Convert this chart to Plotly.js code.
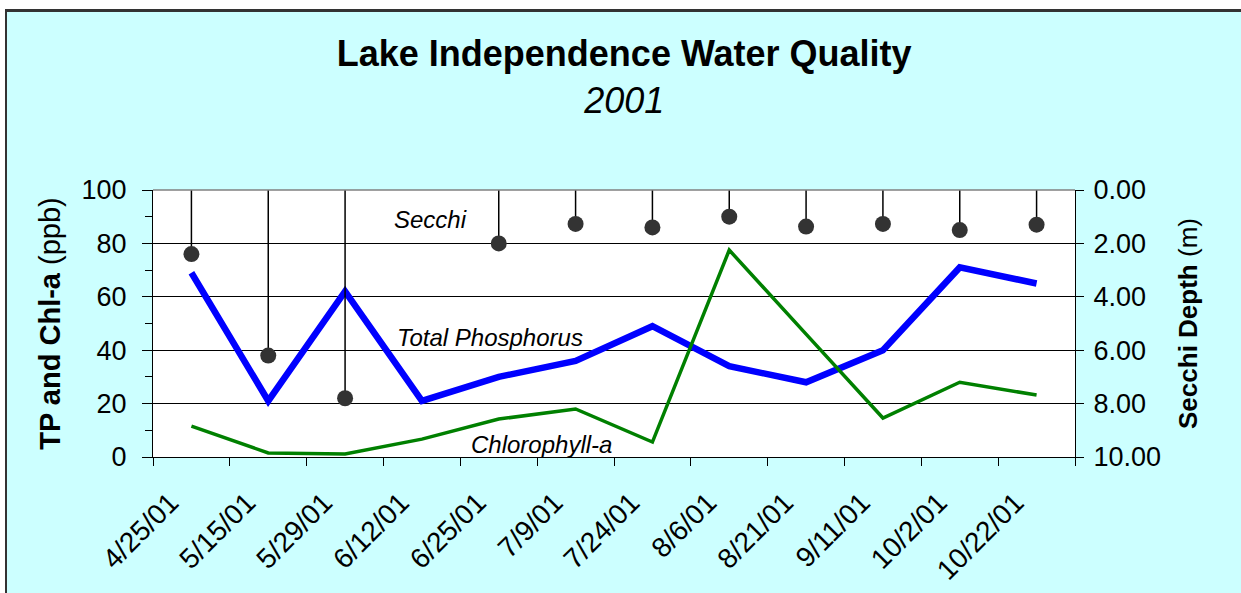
<!DOCTYPE html>
<html>
<head>
<meta charset="utf-8">
<script src="https://cdn.plot.ly/plotly-3.0.1.min.js"></script>
<style>
  html, body { margin: 0; padding: 0; background: #ffffff; }
  #wrap { position: relative; width: 1241px; height: 593px; overflow: hidden; }
  #chart { position: absolute; left: 0; top: 0; width: 1241px; height: 593px; }
  .cover { position: absolute; pointer-events: none; }
</style>
</head>
<body>
<div id="wrap">
  <div id="chart"></div>
  <div class="cover" style="left:0;top:0;width:1241px;height:9px;background:#ffffff;"></div>
  <div class="cover" style="left:0;top:0;width:5px;height:593px;background:#ffffff;"></div>
  <div class="cover" style="left:5px;top:9px;width:1236px;height:3px;background:#333333;"></div>
  <div class="cover" style="left:5px;top:9px;width:2px;height:584px;background:#333333;"></div>
</div>
<script>
// ---- data ----
const dates = ["4/25/01","5/15/01","5/29/01","6/12/01","6/25/01","7/9/01",
               "7/24/01","8/6/01","8/21/01","9/11/01","10/2/01","10/22/01"];
const totalPhosphorus = [69, 21, 62, 21, 30, 36, 49, 34, 28, 40, 71, 65];   // ppb
const chlorophyllA    = [11.6, 1.5, 1.1, 6.7, 14.2, 18, 5.6, 77.5, 46, 14.6, 28, 23.2]; // ppb
const secchiDepth     = [2.4, 6.2, 7.8, null, 2.0, 1.27, 1.4, 1.0, 1.37, 1.27, 1.5, 1.3]; // m
const leftTicks  = [0, 20, 40, 60, 80, 100];
const rightTicks = [0, 2, 4, 6, 8, 10];

const FONT = "Liberation Sans, Arial, Helvetica, sans-serif";

const secchiStem = secchiDepth.map(v => v === null ? null : 0);

const traces = [
  {
    x: dates, y: totalPhosphorus, type: "scatter", mode: "lines",
    name: "Total Phosphorus",
    line: { color: "#0000FF", width: 6.5 },
    xaxis: "x", yaxis: "y", hoverinfo: "skip"
  },
  {
    x: dates, y: chlorophyllA, type: "scatter", mode: "lines",
    name: "Chlorophyll-a",
    line: { color: "#008000", width: 3.5 },
    xaxis: "x", yaxis: "y", hoverinfo: "skip"
  },
  {
    x: dates, y: secchiDepth, type: "scatter", mode: "markers",
    name: "Secchi",
    marker: { color: "#333333", size: 16 },
    error_y: {
      type: "data", symmetric: false,
      array: secchiStem, arrayminus: secchiDepth,
      color: "#000000", thickness: 1.5, width: 0
    },
    xaxis: "x", yaxis: "y2", hoverinfo: "skip"
  }
];

const layout = {
  width: 1241, height: 593,
  paper_bgcolor: "#CCFFFF",
  plot_bgcolor: "#FFFFFF",
  showlegend: false,
  font: { family: FONT, color: "#000000", size: 26 },
  margin: { l: 153, r: 166, t: 190, b: 136, pad: 0 },
  title: {
    text: "<b>Lake Independence Water Quality</b><br><i>2001</i>",
    font: { family: FONT, size: 36, color: "#000000" },
    x: 0.503, xanchor: "center", xref: "container",
    y: 0.889, yanchor: "top", yref: "container"
  },
  xaxis: {
    type: "category",
    categoryorder: "array", categoryarray: dates,
    range: [-0.5, 11.5],
    tickson: "boundaries",
    ticks: "outside", ticklen: 8, tickwidth: 1, tickcolor: "#000000",
    showline: true, linecolor: "#000000", linewidth: 1,
    showgrid: false, zeroline: false,
    tickangle: -45,
    ticklabelshift: -21,
    ticklabelstandoff: 17,
    tickfont: { family: FONT, size: 28, color: "#000000" },
    fixedrange: true
  },
  yaxis: {
    range: [0, 100],
    tickvals: leftTicks,
    ticks: "outside", ticklen: 10, tickwidth: 1, tickcolor: "#000000",
    minor: { dtick: 10, tick0: 0, ticks: "outside", ticklen: 7, tickwidth: 1, tickcolor: "#000000", showgrid: false },
    showline: true, linecolor: "#000000", linewidth: 1,
    showgrid: true, gridcolor: "#000000", gridwidth: 1,
    zeroline: false,
    ticklabelstandoff: 10,
    tickfont: { family: FONT, size: 27, color: "#000000" },
    title: {
      text: "<b>TP and Chl-a</b> (ppb)",
      font: { family: FONT, size: 29, color: "#000000" },
      standoff: 12
    },
    fixedrange: true
  },
  yaxis2: {
    overlaying: "y", side: "right", anchor: "x",
    range: [10, 0],
    tickvals: rightTicks,
    tickformat: ".2f",
    ticks: "outside", ticklen: 8, tickwidth: 1, tickcolor: "#000000",
    showline: true, linecolor: "#000000", linewidth: 1,
    showgrid: false, zeroline: false,
    ticklabelstandoff: 4,
    tickfont: { family: FONT, size: 27, color: "#000000" },
    title: {
      text: "<b>Secchi Depth</b> (m)",
      font: { family: FONT, size: 26, color: "#000000" },
      standoff: 18
    },
    fixedrange: true
  },
  shapes: [
    { type: "line", xref: "paper", yref: "paper", x0: 0, x1: 1, y0: 1, y1: 1,
      line: { color: "#808080", width: 1.5 }, layer: "above" }
  ],
  annotations: [
    { text: "<i>Secchi</i>", x: 3.11, y: 88.8, xref: "x", yref: "y",
      showarrow: false, font: { family: FONT, size: 24, color: "#000000" } },
    { text: "<i>Total Phosphorus</i>", x: 3.89, y: 44.6, xref: "x", yref: "y",
      showarrow: false, font: { family: FONT, size: 24, color: "#000000" } },
    { text: "<i>Chlorophyll-a</i>", x: 4.56, y: 4.5, xref: "x", yref: "y",
      showarrow: false, font: { family: FONT, size: 24, color: "#000000" } }
  ]
};

Plotly.newPlot("chart", traces, layout, { displayModeBar: false, staticPlot: true });
</script>
</body>
</html>
